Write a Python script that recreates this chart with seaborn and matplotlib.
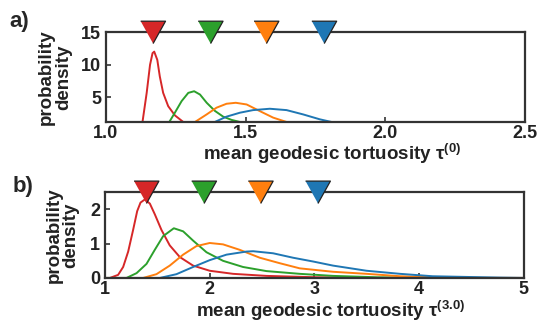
import matplotlib
matplotlib.use("Agg")
import matplotlib.pyplot as plt
import numpy as np
import pandas as pd
import seaborn as sns

# ─── Data ─────────────────────────────────────────────────────────────────────

series = ["set 1", "set 2", "set 3", "set 4"]
colors = ["#d62728", "#2ca02c", "#ff7f0e", "#1f77b4"]

# panel a: tau^(0)
red_a_x    = [1.10, 1.131, 1.146, 1.158, 1.167, 1.173, 1.184, 1.193, 1.205, 1.223, 1.247, 1.277, 1.31]
red_a_y    = [0.0, 1.18, 5.67, 10.0, 11.8, 12.03, 10.76, 8.2, 5.67, 3.62, 2.2, 1.18, 0.5]
green_a_x  = [1.20, 1.227, 1.247, 1.271, 1.295, 1.316, 1.337, 1.361, 1.39, 1.42, 1.45, 1.48, 1.52]
green_a_y  = [0.3, 1.18, 2.61, 4.39, 5.67, 5.92, 5.41, 4.14, 2.9, 2.0, 1.5, 1.18, 0.6]
orange_a_x = [1.28, 1.319, 1.361, 1.396, 1.432, 1.465, 1.504, 1.551, 1.599, 1.647, 1.70]
orange_a_y = [0.4, 1.18, 2.35, 3.38, 3.99, 4.14, 3.88, 2.86, 1.85, 1.18, 0.5]
blue_a_x   = [1.34, 1.39, 1.432, 1.48, 1.527, 1.587, 1.647, 1.706, 1.766, 1.808, 1.86]
blue_a_y   = [0.5, 1.18, 2.0, 2.61, 3.01, 3.22, 3.01, 2.35, 1.59, 1.18, 0.6]
means_a    = [1.169, 1.375, 1.575, 1.782]

# panel b: tau^(3.0)
red_b_x    = [1.0, 1.048, 1.127, 1.175, 1.223, 1.27, 1.309, 1.341, 1.382, 1.43, 1.477, 1.541,
              1.62, 1.716, 1.843, 2.002, 2.225, 2.544, 3.02, 3.6, 5.0]
red_b_y    = [0.0, 0.0, 0.09, 0.32, 0.77, 1.40, 1.95, 2.20, 2.29, 2.17, 1.86, 1.40,
              0.95, 0.61, 0.36, 0.21, 0.12, 0.06, 0.02, 0.0, 0.0]
green_b_x  = [1.0, 1.207, 1.303, 1.398, 1.477, 1.557, 1.659, 1.748, 1.843, 1.971, 2.129,
              2.32, 2.544, 2.862, 3.18, 3.6, 4.1, 5.0]
green_b_y  = [0.0, 0.0, 0.14, 0.41, 0.82, 1.22, 1.45, 1.36, 1.09, 0.75, 0.50,
              0.32, 0.20, 0.12, 0.06, 0.02, 0.0, 0.0]
orange_b_x = [1.0, 1.366, 1.493, 1.62, 1.748, 1.875, 2.002, 2.129, 2.289, 2.48, 2.671,
              2.862, 3.18, 3.5, 3.82, 4.13, 4.5, 5.0]
orange_b_y = [0.0, 0.0, 0.11, 0.36, 0.68, 0.93, 1.02, 0.98, 0.82, 0.59, 0.43,
              0.28, 0.18, 0.12, 0.05, 0.02, 0.0, 0.0]
blue_b_x   = [1.0, 1.525, 1.684, 1.843, 2.002, 2.162, 2.353, 2.416, 2.607, 2.798, 2.989,
              3.18, 3.5, 3.82, 4.13, 4.45, 4.77, 5.0]
blue_b_y   = [0.0, 0.0, 0.11, 0.32, 0.52, 0.68, 0.77, 0.78, 0.72, 0.59, 0.48,
              0.36, 0.21, 0.12, 0.05, 0.03, 0.01, 0.0]
means_b    = [1.398, 1.948, 2.489, 3.036]


def long_frame(xs, ys):
    rows = []
    for name, x, y in zip(series, xs, ys):
        rows += [{"x": a, "y": b, "set": name} for a, b in zip(x, y)]
    return pd.DataFrame(rows)


curves_a = long_frame([red_a_x, green_a_x, orange_a_x, blue_a_x],
                      [red_a_y, green_a_y, orange_a_y, blue_a_y])
curves_b = long_frame([red_b_x, green_b_x, orange_b_x, blue_b_x],
                      [red_b_y, green_b_y, orange_b_y, blue_b_y])

# ─── Style ────────────────────────────────────────────────────────────────────

sns.set_theme(style="ticks")
plt.rcParams["font.family"] = ["Liberation Sans", "DejaVu Sans"]
plt.rcParams["font.weight"] = "bold"
plt.rcParams["mathtext.fontset"] = "custom"
plt.rcParams["mathtext.rm"] = "Liberation Sans:bold"
plt.rcParams["mathtext.it"] = "Liberation Sans:bold"
plt.rcParams["mathtext.bf"] = "Liberation Sans:bold"
plt.rcParams["mathtext.default"] = "rm"

palette = dict(zip(series, colors))
tri = [(-1, 0.9), (1, 0.9), (0, -0.9)]
ink = "#222222"


def draw_panel(ax, curves, means, xlim, ylim, xticks, yticks, xlabel):
    sns.lineplot(data=curves, x="x", y="y", hue="set", palette=palette,
                 estimator=None, sort=False, lw=1.4, legend=False, ax=ax)
    sns.scatterplot(x=means, y=[ylim[1]] * len(means), hue=series, palette=palette,
                    marker=tri, s=320, edgecolor=ink, linewidth=0.9,
                    legend=False, clip_on=False, zorder=5, ax=ax)
    ax.set_xlim(xlim)
    ax.set_ylim(ylim)
    ax.set_xticks(xticks)
    ax.set_yticks(yticks)
    ax.tick_params(direction="in", length=3.5, width=1.1, labelsize=13,
                   colors=ink, top=False, right=False)
    ax.tick_params(axis="x", pad=2.5)
    for s in ax.spines.values():
        s.set_linewidth(1.6)
        s.set_color("#333333")
    ax.set_xlabel(xlabel, fontsize=13.5, fontweight="bold", color=ink)
    ax.set_ylabel("probability\ndensity", fontsize=13.5, fontweight="bold",
                  color=ink, linespacing=1.0)


fig = plt.figure(figsize=(5.46, 3.27), dpi=100)
ax_a = fig.add_axes([0.194, 0.627, 0.767, 0.274])
ax_b = fig.add_axes([0.192, 0.150, 0.767, 0.262])

draw_panel(ax_a, curves_a, means_a, (1.0, 2.5), (1.18, 15),
           [1.0, 1.5, 2.0, 2.5], [5, 10, 15],
           r"mean geodesic tortuosity $\tau^{(0)}$")
draw_panel(ax_b, curves_b, means_b, (1, 5), (0, 2.5),
           [1, 2, 3, 4, 5], [0, 1, 2],
           r"mean geodesic tortuosity $\tau^{(3.0)}$")
ax_a.set_xticklabels(["1.0", "1.5", "2.0", "2.5"])

ax_a.yaxis.set_label_coords(-0.081, 0.5)
ax_b.yaxis.set_label_coords(-0.060, 0.5)
ax_a.xaxis.set_label_coords(0.54, -0.225)
ax_b.xaxis.set_label_coords(0.54, -0.245)

fig.text(0.035, 0.933, "a)", fontsize=16, fontweight="bold", ha="center", va="center")
fig.text(0.042, 0.431, "b)", fontsize=16, fontweight="bold", ha="center", va="center")

fig.savefig("out.png", dpi=100)
plt.close(fig)
